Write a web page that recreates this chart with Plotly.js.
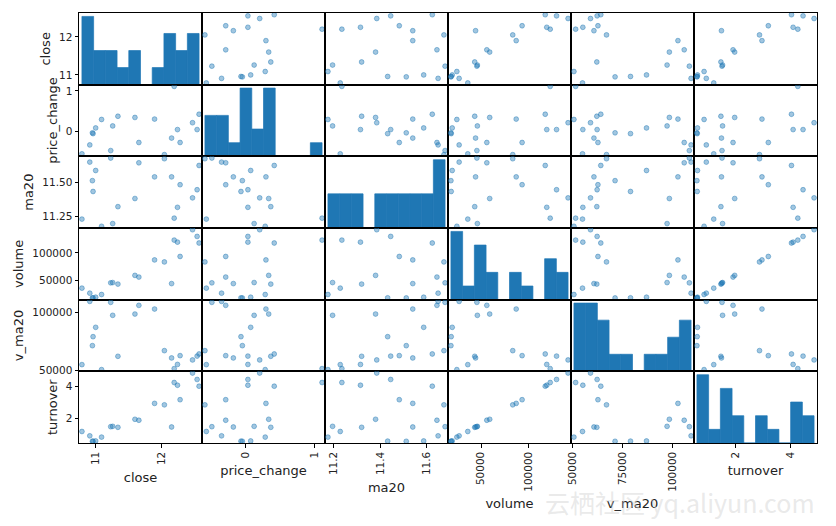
<!DOCTYPE html>
<html><head><meta charset="utf-8">
<script src="https://cdn.plot.ly/plotly-3.0.1.min.js"></script>
<style>html,body{margin:0;padding:0;background:#fff}</style>
</head><body>
<div id="chart" style="width:836px;height:526px"></div>
<script>
// ---- data (20 rows) ----
const closePrice  = [10.79, 10.91, 10.95, 10.96, 11.00, 11.09, 11.23, 11.26, 11.34, 11.60, 11.66, 11.90, 12.05, 12.16, 12.20, 12.25, 12.29, 12.48, 12.55, 12.58];
const priceChange = [-0.56, -0.34, -0.04, -0.06, 0.08, 0.29, -0.48, 0.13, 0.37, 0.34, -0.28, 0.30, -0.58, -0.17, 1.11, 0.04, -0.28, 0.21, 0.04, 0.42];
const ma20        = [11.228, 11.649, 11.512, 11.432, 11.587, 11.175, 11.679, 11.195, 11.320, 11.380, 11.644, 11.540, 11.674, 11.540, 11.235, 11.315, 11.482, 11.385, 11.445, 11.624];
const volume      = [35953, 26796, 18100, 18400, 19470, 24359, 45600, 46100, 43300, 59157, 56104, 87240, 83577, 44200, 123260, 119597, 93500, 142180, 129975, 118000];
const vMa20       = [55139, 109085, 71322, 78986, 86942, 50877, 108237, 97164, 62240, 98296, 105682, 102555, 67062, 60817, 51729, 55300, 62802, 59114, 62400, 64224];
const turnover    = [1.20, 0.93, 0.59, 0.60, 0.61, 0.85, 1.50, 1.52, 1.46, 1.96, 1.90, 2.95, 2.86, 1.48, 4.25, 4.08, 3.18, 4.84, 4.44, 4.02];

const columns = ['close', 'price_change', 'ma20', 'volume', 'v_ma20', 'turnover'];
const series  = [closePrice, priceChange, ma20, volume, vMa20, turnover];

const xTickVals = [[11, 12], [0, 1], [11.2, 11.4, 11.6], [50000, 100000], [50000, 75000, 100000], [2, 4]];
const xTickText = [['11', '12'], ['0', '1'], ['11.2', '11.4', '11.6'], ['50000', '100000'], ['50000', '75000', '100000'], ['2', '4']];
const yTickVals = [[11, 12], [0, 1], [11.25, 11.5], [50000, 100000], [50000, 100000], [2, 4]];
const yTickText = [['11', '12'], ['0', '1'], ['11.25', '11.50'], ['50000', '100000'], ['50000', '100000'], ['2', '4']];

// ---- build ----
const N = columns.length;
const BLUE = '#1f77b4';
const TXT = '#222222';
const ranges = series.map(s => {
  const mn = Math.min(...s), mx = Math.max(...s), d = (mx - mn) * 0.025;
  return [mn - d, mx + d];
});
function hist(s, nb) {
  const mn = Math.min(...s), mx = Math.max(...s), w = (mx - mn) / nb;
  const c = new Array(nb).fill(0);
  s.forEach(v => { let k = Math.floor((v - mn) / w + 1e-9); if (k >= nb) k = nb - 1; if (k < 0) k = 0; c[k]++; });
  return {x: c.map((_, k) => mn + w * (k + 0.5)), y: c, w: w, max: Math.max(...c)};
}

const traces = [];
const layout = {
  width: 836, height: 526,
  margin: {l: 79, r: 19, t: 13, b: 83},
  paper_bgcolor: '#fff', plot_bgcolor: '#fff',
  showlegend: false,
  font: {family: 'DejaVu Sans', color: TXT, size: 10.5},
  annotations: [{
    text: '云栖社区 yq.aliyun.com', xref: 'paper', yref: 'paper',
    x: 1.0, y: -0.137, xanchor: 'right', yanchor: 'middle', showarrow: false,
    font: {family: 'Noto Sans CJK SC', size: 25, color: 'rgba(200,200,200,0.4)'}
  }]
};

for (let i = 0; i < N; i++) {
  for (let j = 0; j < N; j++) {
    const idx = i * N + j + 1;
    const sfx = idx === 1 ? '' : String(idx);
    const xa = 'xaxis' + sfx, ya = 'yaxis' + sfx;
    let yRange;
    if (i === j) {
      const h = hist(series[i], 10);
      yRange = [0, h.max * 1.05];
      traces.push({type: 'bar', x: h.x, y: h.y, width: h.w, xaxis: 'x' + sfx, yaxis: 'y' + sfx,
        marker: {color: BLUE, line: {width: 0.7, color: BLUE}}, hoverinfo: 'skip'});
    } else {
      yRange = ranges[i];
      traces.push({type: 'scatter', mode: 'markers', x: series[j], y: series[i], xaxis: 'x' + sfx, yaxis: 'y' + sfx,
        marker: {size: 4.8, color: 'rgba(31,119,180,0.42)', line: {width: 0.9, color: 'rgba(31,119,180,0.5)'}},
        hoverinfo: 'skip'});
    }
    const xAx = {
      domain: [j / N, (j + 1) / N], anchor: 'y' + sfx, range: ranges[j],
      showgrid: false, zeroline: false, showline: true, mirror: true, linecolor: '#000', linewidth: 1,
      fixedrange: true
    };
    if (i === N - 1) {
      Object.assign(xAx, {tickmode: 'array', tickvals: xTickVals[j], ticktext: xTickText[j], tickangle: -90,
        ticks: 'outside', ticklen: 3.5, tickwidth: 1, tickcolor: '#000', tickfont: {size: 10.5, color: TXT},
        title: {text: columns[j], font: {size: 13, color: TXT}, standoff: 8}});
    } else {
      Object.assign(xAx, {showticklabels: false, ticks: ''});
    }
    const yAx = {
      domain: [1 - (i + 1) / N, 1 - i / N], anchor: 'x' + sfx, range: yRange,
      showgrid: false, zeroline: false, showline: true, mirror: true, linecolor: '#000', linewidth: 1,
      fixedrange: true
    };
    if (j === 0) {
      let tv = yTickVals[i];
      if (i === j) {
        const r = ranges[i];
        tv = tv.map(v => (v - r[0]) / (r[1] - r[0]) * (yRange[1] - yRange[0]) + yRange[0]);
      }
      Object.assign(yAx, {tickmode: 'array', tickvals: tv, ticktext: yTickText[i],
        ticks: 'outside', ticklen: 3.5, tickwidth: 1, tickcolor: '#000', tickfont: {size: 10.5, color: TXT},
        title: {text: columns[i], font: {size: 13, color: TXT}, standoff: 5}});
    } else {
      Object.assign(yAx, {showticklabels: false, ticks: ''});
    }
    layout[xa] = xAx;
    layout[ya] = yAx;
  }
}

Plotly.newPlot('chart', traces, layout, {staticPlot: true, displayModeBar: false});
</script>
</body></html>
